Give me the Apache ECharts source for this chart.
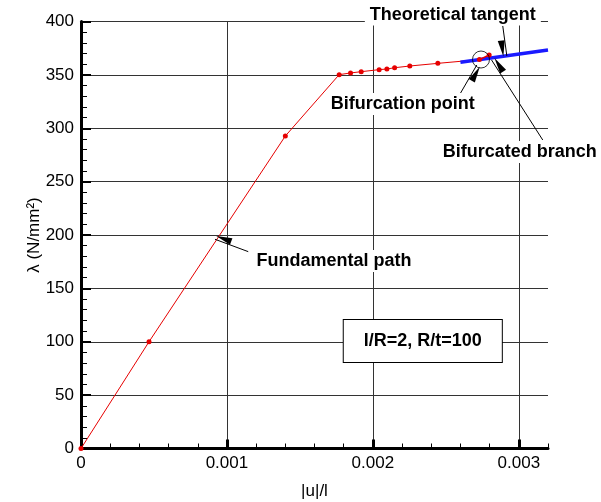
<!DOCTYPE html>
<html>
<head>
<meta charset="utf-8">
<script src="https://cdn.jsdelivr.net/npm/echarts@6/dist/echarts.min.js"></script>
<style>
html,body{margin:0;padding:0;background:#fff;}
#c{width:601px;height:502px;}
</style>
</head>
<body>
<div id="c"></div>
<script>
// ---- data ----
var pathX = [0, 0.000466, 0.0014, 0.001769, 0.001847, 0.00192, 0.002043, 0.002096, 0.002149, 0.002253, 0.002445];
var pathY = [0, 100, 292.7, 350.2, 351.8, 353, 354.9, 355.5, 356.7, 358.3, 360.8];
var pathEndX = [0.002445, 0.00273];
var pathEndY = [360.8, 364.3];
var branchX = [0.00273, 0.002797];
var branchY = [364.3, 368.6];
var tangentX = [0.0026, 0.0032];
var tangentY = [361.8, 373.3];
var bifX = [0.002741];
var bifY = [364.4];
var xLabelValues = [0, 0.001, 0.002, 0.003];
var xGridValues = [0.001, 0.002, 0.003];

// annotations: [text, x, y] and arrows [tailX, tailY, tipX, tipY]
var noteTexts = ['Theoretical tangent', 'Bifurcation point', 'Bifurcated branch', 'Fundamental path'];
var noteX = [0.002548, 0.002205, 0.003007, 0.001733];
var noteY = [406.5, 322.7, 277.8, 175.6];
var arrowTailX = [0.00289, 0.002589, 0.003164, 0.001146];
var arrowTailY = [395.8, 330.2, 289, 184.4];
var arrowTipX = [0.002918, 0.002712, 0.002813, 0.000918];
var arrowTipY = [367.7, 359.2, 364, 196];
var boxText = 'l/R=2, R/t=100';
var boxX = 0.002342, boxY = 100.7;

function zip(a, b) { return a.map(function (v, i) { return [v, b[i]]; }); }

var FONT = '"Liberation Sans", Arial, sans-serif';
var chart = echarts.init(document.getElementById('c'), null, {renderer: 'canvas'});

var arrowData = arrowTailX.map(function (v, i) {
  return [{coord: [v, arrowTailY[i]]}, {coord: [arrowTipX[i], arrowTipY[i]]}];
});

var option = {
  animation: false,
  backgroundColor: '#fff',
  grid: {left: 81, right: 53, top: 21.5, bottom: 53.5, containLabel: false, outerBoundsMode: 'none'},
  xAxis: [{
    type: 'value', min: 0, max: 0.0032, interval: 0.0002,
    name: '|u|/l', nameLocation: 'middle', nameGap: 34,
    nameTextStyle: {fontFamily: FONT, fontSize: 17, color: '#000'},
    axisLine: {show: true, onZero: false, lineStyle: {color: '#000', width: 3}},
    axisTick: {show: true, inside: true, length: 5, lineStyle: {color: '#000', width: 1}},
    axisLabel: {show: true, customValues: xLabelValues, margin: 6, fontFamily: FONT, fontSize: 17, color: '#000',
      formatter: function (v) { return v === 0 ? '0' : v.toFixed(3); }},
    splitLine: {show: false}
  }, {
    type: 'value', min: 0, max: 0.0032, position: 'bottom',
    axisLine: {show: false},
    axisTick: {show: true, inside: true, length: 9, customValues: xGridValues, lineStyle: {color: '#000', width: 3}},
    axisLabel: {show: false},
    splitLine: {show: true, lineStyle: {color: '#333', width: 1}}
  }],
  yAxis: {
    type: 'value', min: 0, max: 400, interval: 50,
    name: 'λ (N/mm²)', nameLocation: 'middle', nameGap: 38, nameRotate: 90, nameMoveOverlap: false,
    nameTextStyle: {fontFamily: FONT, fontSize: 17, color: '#000'},
    axisLine: {show: true, onZero: false, lineStyle: {color: '#000', width: 3}},
    axisTick: {show: true, inside: true, length: 10, lineStyle: {color: '#000', width: 2}},
    minorTick: {show: true, splitNumber: 5, length: 6, lineStyle: {color: '#000', width: 1}},
    axisLabel: {margin: 7, fontFamily: FONT, fontSize: 17, color: '#000'},
    splitLine: {show: true, lineStyle: {color: '#333', width: 1}}
  },
  series: [{
    type: 'line', data: zip(pathX, pathY), z: 2,
    symbol: 'circle', symbolSize: 5, showSymbol: true,
    lineStyle: {color: '#e60000', width: 1}, itemStyle: {color: '#e60000'}
  }, {
    type: 'line', data: zip(pathEndX, pathEndY), z: 2,
    symbol: 'none', lineStyle: {color: '#e60000', width: 1}
  }, {
    type: 'line', data: zip(tangentX, tangentY), z: 3,
    symbol: 'none', lineStyle: {color: '#1a1aff', width: 3.5}
  }, {
    type: 'line', data: zip(branchX, branchY), z: 4,
    symbol: 'circle', symbolSize: 5, showSymbol: true,
    lineStyle: {color: '#e60000', width: 1.5}, itemStyle: {color: '#e60000'}
  }, {
    type: 'scatter', data: zip(bifX, bifY), z: 5,
    symbol: 'circle', symbolSize: 17,
    itemStyle: {color: 'rgba(0,0,0,0)', borderColor: '#000', borderWidth: 1},
    markLine: {
      silent: true, animation: false,
      symbol: ['none', 'triangle'], symbolSize: [7, 16], symbolOffset: [0, '50%'],
      label: {show: false},
      lineStyle: {color: '#000', width: 1, type: 'solid'},
      emphasis: {disabled: true},
      data: arrowData
    }
  }]
};
chart.setOption(option);

var graphics = noteTexts.map(function (t, i) {
  var p = chart.convertToPixel({gridIndex: 0}, [noteX[i], noteY[i]]);
  return {
    type: 'text', x: p[0], y: p[1], z: 100,
    style: {text: t, font: 'bold 18px ' + FONT, fill: '#000', align: 'center', verticalAlign: 'middle',
      backgroundColor: '#fff', padding: [2, 5]}
  };
});
var bp = chart.convertToPixel({gridIndex: 0}, [boxX, boxY]);
graphics.push({
  type: 'text', x: bp[0], y: bp[1], z: 100,
  style: {text: boxText, font: 'bold 18px ' + FONT, fill: '#000', align: 'center', verticalAlign: 'middle',
    backgroundColor: '#fff', borderColor: '#000', borderWidth: 1, padding: [12, 20]}
});
chart.setOption({graphic: graphics});
</script>
</body>
</html>
